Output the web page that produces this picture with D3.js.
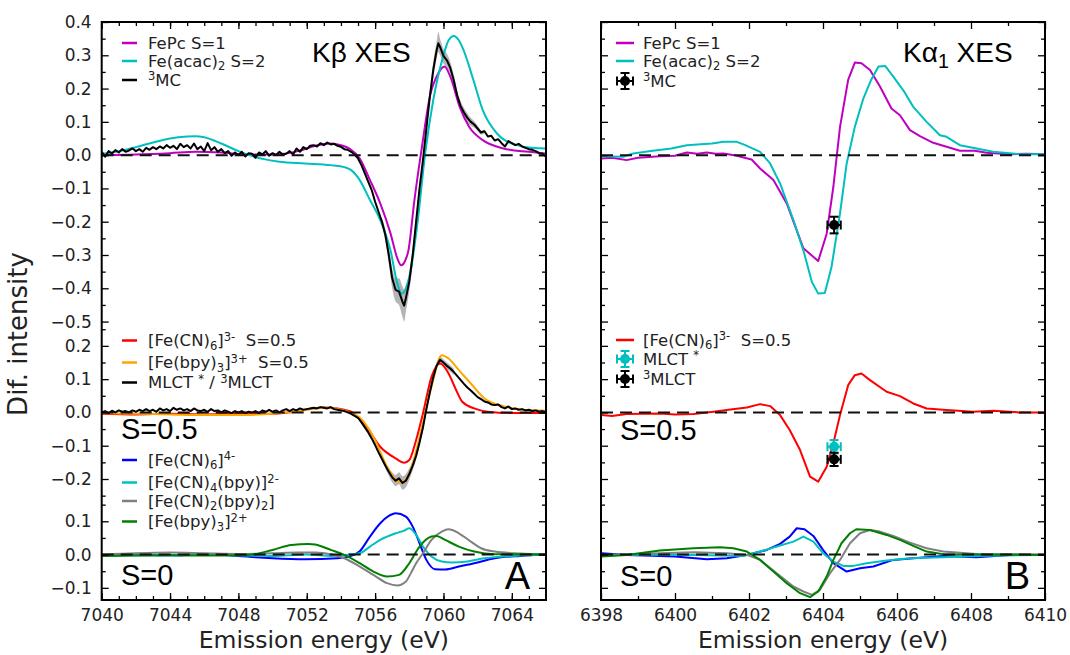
<!DOCTYPE html>
<html>
<head>
<meta charset="utf-8">
<script src="https://cdn.jsdelivr.net/npm/d3@7"></script>
<style>
	body { margin: 0; background: #fff; }
	text { font-family: 'DejaVu Sans', sans-serif; white-space: pre; }
</style>
</head>
<body>
<svg id="canvas"></svg>
<script>

// ---- data: [energy (eV), difference intensity] ----

// Kbeta, top block
let kbFePc = [[7040,0.000],[7042,0.002],[7044,0.006],[7045.5,0.010],[7047,0.008],[7048.5,0.002],[7050,0.002],[7051.5,0.012],[7052.5,0.028],[7053.4,0.035],[7054.0,0.030],[7054.5,0.020],[7055.1,-0.010],[7055.7,-0.075],[7056.3,-0.145],[7056.9,-0.235],[7057.3,-0.310],[7057.52,-0.331],[7057.75,-0.318],[7057.95,-0.286],[7058.3,-0.135],[7058.74,0.025],[7059.2,0.175],[7059.7,0.246],[7060.06,0.266],[7060.4,0.236],[7060.95,0.145],[7061.5,0.085],[7062.3,0.045],[7063.5,0.020],[7065,0.010],[7066,0.005]]

let kbAcac = [[7040,0.004],[7041,0.012],[7042,0.024],[7043,0.038],[7044,0.050],[7045,0.056],[7045.5,0.057],[7046,0.054],[7047,0.035],[7048,0.012],[7048.8,-0.003],[7049.5,-0.012],[7050.4,-0.020],[7051.9,-0.025],[7053.4,-0.030],[7054.2,-0.036],[7054.6,-0.045],[7055.1,-0.075],[7055.7,-0.135],[7056.3,-0.195],[7056.9,-0.286],[7057.3,-0.386],[7057.56,-0.416],[7057.8,-0.400],[7058.05,-0.356],[7058.5,-0.195],[7058.93,0.005],[7059.4,0.165],[7059.98,0.296],[7060.3,0.345],[7060.6,0.358],[7060.9,0.345],[7061.17,0.316],[7061.75,0.226],[7062.3,0.135],[7063.13,0.065],[7064.3,0.030],[7065.2,0.022],[7066,0.020]]

let kbMC = [[7040.0,0.010],[7040.2,-0.005],[7040.4,0.012],[7040.6,0.005],[7040.8,0.015],[7041.0,0.008],[7041.2,0.018],[7041.4,0.010],[7041.6,0.014],[7041.8,0.020],[7042.0,0.012],[7042.2,0.018],[7042.4,0.010],[7042.6,0.022],[7042.8,0.016],[7043.0,0.024],[7043.2,0.018],[7043.4,0.026],[7043.6,0.020],[7043.8,0.030],[7044.0,0.022],[7044.2,0.028],[7044.4,0.018],[7044.6,0.034],[7044.8,0.024],[7045.0,0.030],[7045.2,0.020],[7045.4,0.035],[7045.6,0.018],[7045.8,0.026],[7046.0,0.012],[7046.2,0.036],[7046.4,0.015],[7046.6,0.024],[7046.8,0.010],[7047.0,0.018],[7047.2,0.006],[7047.4,0.012],[7047.6,-0.002],[7047.8,0.008],[7048.0,0.000],[7048.2,0.010],[7048.4,-0.004],[7048.6,0.006],[7048.8,0.004],[7049.0,-0.008],[7049.2,0.008],[7049.4,0.002],[7049.6,0.012],[7049.8,-0.002],[7050.0,0.006],[7050.2,0.000],[7050.4,0.010],[7050.6,0.002],[7050.8,0.004],[7051.0,0.012],[7051.2,0.002],[7051.4,0.020],[7051.6,0.010],[7051.8,0.024],[7052.0,0.018],[7052.2,0.028],[7052.4,0.030],[7052.6,0.026],[7052.8,0.036],[7053.0,0.030],[7053.2,0.038],[7053.4,0.032],[7053.6,0.034],[7053.8,0.028],[7054.0,0.025],[7054.2,0.018],[7054.4,0.016],[7054.6,0.010],[7054.8,0.002],[7055.0,-0.010],[7055.2,-0.030],[7055.4,-0.055],[7055.6,-0.080],[7055.8,-0.105],[7056.0,-0.140],[7056.2,-0.170],[7056.4,-0.200],[7056.6,-0.240],[7056.8,-0.300],[7057.0,-0.370],[7057.2,-0.405],[7057.4,-0.410],[7057.6,-0.440],[7057.7,-0.452],[7057.8,-0.430],[7058.0,-0.380],[7058.2,-0.300],[7058.4,-0.200],[7058.6,-0.100],[7058.8,-0.015],[7059.0,0.080],[7059.2,0.175],[7059.4,0.255],[7059.6,0.315],[7059.7,0.336],[7059.8,0.325],[7060.0,0.298],[7060.2,0.285],[7060.4,0.262],[7060.6,0.226],[7060.8,0.180],[7061.0,0.148],[7061.2,0.128],[7061.4,0.112],[7061.6,0.100],[7061.8,0.092],[7062.0,0.080],[7062.2,0.068],[7062.4,0.072],[7062.6,0.056],[7062.8,0.058],[7063.0,0.044],[7063.2,0.048],[7063.4,0.036],[7063.6,0.026],[7063.8,0.042],[7064.0,0.036],[7064.2,0.030],[7064.4,0.034],[7064.6,0.026],[7064.8,0.022],[7065.0,0.018],[7065.2,0.016],[7065.4,0.012],[7065.6,0.006],[7065.8,0.004],[7066.0,-0.005]]

// uncertainty band of the 3MC curve: [energy, low, high]
let kbMCband = [[7056.4,-0.212,-0.188],[7056.6,-0.258,-0.222],[7056.8,-0.325,-0.275],[7057.0,-0.400,-0.340],[7057.2,-0.440,-0.370],[7057.4,-0.450,-0.370],[7057.6,-0.485,-0.395],[7057.7,-0.500,-0.405],[7057.8,-0.470,-0.390],[7058.0,-0.410,-0.350],[7058.2,-0.325,-0.275],[7058.4,-0.220,-0.180],[7058.6,-0.115,-0.085],[7058.8,-0.030,0.000],[7059.0,0.065,0.095],[7059.2,0.155,0.195],[7059.4,0.230,0.280],[7059.6,0.290,0.340],[7059.7,0.310,0.370],[7059.8,0.300,0.350],[7060.0,0.275,0.320],[7060.2,0.265,0.305],[7060.4,0.245,0.280],[7060.6,0.210,0.242],[7060.8,0.166,0.194],[7061.0,0.134,0.162],[7061.2,0.114,0.142],[7061.4,0.098,0.126],[7061.6,0.088,0.112],[7061.8,0.082,0.102],[7062.0,0.072,0.088],[7062.2,0.062,0.074],[7062.4,0.066,0.078]]

// Kbeta, S=0.5 block
let kbFeCN6_3 = [[7040,-0.004],[7042,-0.006],[7044,-0.004],[7046,-0.006],[7048,-0.004],[7050,-0.004],[7051.5,0.004],[7052.3,0.012],[7053,0.015],[7053.8,0.012],[7054.6,0.002],[7055.0,-0.015],[7055.5,-0.043],[7056.3,-0.103],[7057.2,-0.138],[7057.7,-0.151],[7058.0,-0.143],[7058.4,-0.083],[7058.8,-0.003],[7059.3,0.107],[7059.8,0.147],[7060.3,0.117],[7060.7,0.072],[7061.1,0.032],[7061.8,0.012],[7062.6,0.002],[7064,-0.002],[7066,-0.002]]

let kbBpy3_3 = [[7040,-0.002],[7042,-0.004],[7044,-0.006],[7046,-0.008],[7048,-0.008],[7050,-0.004],[7051.5,0.004],[7052.5,0.012],[7053.2,0.014],[7054,0.008],[7054.6,-0.002],[7055.1,-0.015],[7055.9,-0.073],[7056.7,-0.163],[7057.4,-0.208],[7057.8,-0.203],[7058.2,-0.153],[7058.7,-0.053],[7059.3,0.077],[7059.9,0.172],[7060.3,0.162],[7060.9,0.127],[7061.6,0.087],[7062.4,0.042],[7063.5,0.019],[7064.5,0.009],[7066,0.005]]

let kbMLCT = [[7040.0,0.000],[7040.2,0.004],[7040.4,-0.002],[7040.6,0.005],[7040.8,0.000],[7041.0,0.006],[7041.2,0.002],[7041.4,0.004],[7041.6,0.000],[7041.8,0.006],[7042.0,0.002],[7042.2,0.008],[7042.4,0.004],[7042.6,0.010],[7042.8,0.004],[7043.0,0.008],[7043.2,0.002],[7043.4,0.012],[7043.6,0.006],[7043.8,0.010],[7044.0,0.004],[7044.2,0.014],[7044.4,0.008],[7044.6,0.012],[7044.8,0.006],[7045.0,0.010],[7045.2,0.004],[7045.4,0.012],[7045.6,0.006],[7045.8,0.004],[7046.0,0.008],[7046.2,0.002],[7046.4,0.010],[7046.6,0.004],[7046.8,0.006],[7047.0,0.000],[7047.2,0.006],[7047.4,0.002],[7047.6,-0.002],[7047.8,0.004],[7048.0,0.000],[7048.2,0.004],[7048.4,-0.002],[7048.6,0.002],[7048.8,0.000],[7049.0,0.004],[7049.2,-0.002],[7049.4,0.006],[7049.6,0.002],[7049.8,0.008],[7050.0,0.002],[7050.2,0.006],[7050.4,0.000],[7050.6,0.006],[7050.8,0.010],[7051.0,0.004],[7051.2,0.010],[7051.4,0.006],[7051.6,0.012],[7051.8,0.008],[7052.0,0.010],[7052.2,0.012],[7052.4,0.014],[7052.6,0.012],[7052.8,0.016],[7053.0,0.014],[7053.2,0.012],[7053.4,0.016],[7053.6,0.010],[7053.8,0.008],[7054.0,0.006],[7054.2,0.004],[7054.4,0.000],[7054.6,-0.004],[7054.8,-0.010],[7055.0,-0.016],[7055.2,-0.030],[7055.4,-0.045],[7055.6,-0.060],[7055.8,-0.078],[7056.0,-0.098],[7056.2,-0.120],[7056.4,-0.140],[7056.6,-0.160],[7056.8,-0.178],[7057.0,-0.195],[7057.2,-0.205],[7057.4,-0.198],[7057.6,-0.212],[7057.8,-0.205],[7058.0,-0.185],[7058.2,-0.160],[7058.4,-0.130],[7058.6,-0.090],[7058.8,-0.045],[7059.0,0.010],[7059.2,0.060],[7059.4,0.105],[7059.6,0.140],[7059.8,0.158],[7060.0,0.150],[7060.2,0.140],[7060.4,0.132],[7060.6,0.122],[7060.8,0.110],[7061.0,0.098],[7061.2,0.086],[7061.4,0.075],[7061.6,0.066],[7061.8,0.056],[7062.0,0.046],[7062.2,0.040],[7062.4,0.033],[7062.6,0.030],[7062.8,0.024],[7063.0,0.022],[7063.2,0.024],[7063.4,0.016],[7063.6,0.012],[7063.8,0.018],[7064.0,0.010],[7064.2,0.012],[7064.4,0.008],[7064.6,0.010],[7064.8,0.006],[7065.0,0.008],[7065.2,0.004],[7065.4,0.006],[7065.6,0.002],[7065.8,0.004],[7066.0,0.000]]

let kbMLCTband = [[7056.6,-0.170,-0.150],[7056.8,-0.190,-0.166],[7057.0,-0.210,-0.180],[7057.2,-0.222,-0.188],[7057.4,-0.216,-0.180],[7057.6,-0.232,-0.192],[7057.8,-0.225,-0.185],[7058.0,-0.202,-0.168],[7058.2,-0.174,-0.146],[7058.4,-0.142,-0.118],[7058.6,-0.100,-0.080],[7058.8,-0.055,-0.035],[7059.0,0.000,0.020],[7059.2,0.050,0.070],[7059.4,0.095,0.115],[7059.6,0.130,0.150],[7059.8,0.148,0.168],[7060.0,0.140,0.160],[7060.2,0.130,0.150],[7060.4,0.122,0.142],[7060.6,0.112,0.132]]

// Kbeta, S=0 block
let kbFeCN6_4 = [[7040,-0.002],[7042,0.000],[7044,-0.002],[7046,0.000],[7048,-0.004],[7049,-0.008],[7050,-0.011],[7051.9,-0.014],[7053.8,-0.011],[7054.6,-0.004],[7055.1,0.010],[7055.7,0.054],[7056.3,0.094],[7056.8,0.116],[7057.2,0.124],[7057.8,0.114],[7058.2,0.084],[7058.6,0.034],[7059.0,-0.016],[7059.5,-0.044],[7060.1,-0.045],[7060.9,-0.036],[7061.8,-0.026],[7063.0,-0.011],[7064.5,-0.004],[7066,0.000]]

let kbFeCN4bpy = [[7040,-0.004],[7042,-0.002],[7044,-0.002],[7046,0.000],[7048,-0.002],[7050,-0.004],[7052,0.000],[7053.5,-0.004],[7054.5,0.000],[7055.1,0.004],[7055.7,0.024],[7056.3,0.044],[7057.2,0.064],[7057.7,0.072],[7058.0,0.079],[7058.4,0.059],[7058.8,0.024],[7059.3,-0.006],[7059.9,-0.021],[7060.5,-0.024],[7061.4,-0.021],[7062.4,-0.011],[7063.5,-0.006],[7066,0.000]]

let kbFeCN2bpy2 = [[7040,0.000],[7042,0.004],[7044,0.006],[7046,0.004],[7048,0.002],[7050,0.004],[7051.5,0.006],[7052.5,0.006],[7053.4,0.001],[7054.2,-0.011],[7055.1,-0.036],[7055.9,-0.061],[7056.7,-0.086],[7057.3,-0.093],[7057.8,-0.081],[7058.1,-0.055],[7058.4,-0.026],[7058.8,0.004],[7059.3,0.044],[7059.9,0.069],[7060.3,0.076],[7060.9,0.064],[7061.6,0.039],[7062.2,0.019],[7063.0,0.009],[7064.5,0.003],[7066,0.000]]

let kbBpy3_2 = [[7040,-0.004],[7042,-0.003],[7044,-0.002],[7046,-0.003],[7048,-0.002],[7048.8,0.000],[7050.0,0.014],[7051.1,0.029],[7052.1,0.032],[7052.5,0.030],[7053.4,0.014],[7054.2,-0.001],[7055.1,-0.026],[7055.9,-0.051],[7056.7,-0.066],[7057.4,-0.061],[7058.0,-0.026],[7058.6,0.024],[7059.3,0.054],[7059.6,0.056],[7060.1,0.044],[7060.9,0.024],[7061.8,0.009],[7063.0,0.001],[7066,0.000]]

// Kalpha1, top block
let kaFePc = [[6398.02,-0.010],[6398.3,-0.008],[6398.69,-0.015],[6399.0,-0.008],[6399.59,-0.003],[6400.0,-0.002],[6400.32,0.008],[6400.6,0.004],[6400.86,0.008],[6401.1,0.004],[6401.31,0.005],[6401.6,0.000],[6401.85,-0.007],[6402.07,-0.013],[6402.3,-0.040],[6402.66,-0.075],[6403.02,-0.145],[6403.47,-0.280],[6403.87,-0.318],[6404.10,-0.236],[6404.28,-0.095],[6404.46,0.085],[6404.68,0.226],[6404.86,0.278],[6405.04,0.276],[6405.27,0.256],[6405.54,0.206],[6405.85,0.140],[6406.08,0.120],[6406.35,0.075],[6406.62,0.057],[6406.98,0.037],[6407.34,0.025],[6407.70,0.013],[6408.1,0.013],[6408.42,0.007],[6409.05,0.003],[6409.5,0.004],[6410,0.003]]

let kaAcac = [[6398.02,-0.003],[6398.6,-0.005],[6398.87,0.005],[6399.4,0.013],[6399.9,0.020],[6400.32,0.030],[6400.7,0.033],[6401.0,0.035],[6401.31,0.040],[6401.67,0.040],[6401.9,0.030],[6402.3,0.010],[6402.57,-0.025],[6402.84,-0.085],[6403.2,-0.195],[6403.47,-0.286],[6403.7,-0.381],[6403.87,-0.416],[6404.05,-0.414],[6404.23,-0.336],[6404.46,-0.175],[6404.64,-0.025],[6404.86,0.085],[6405.09,0.170],[6405.3,0.226],[6405.5,0.266],[6405.68,0.268],[6405.9,0.236],[6406.2,0.190],[6406.44,0.145],[6406.8,0.100],[6407.16,0.060],[6407.34,0.055],[6407.7,0.030],[6408.15,0.020],[6408.6,0.010],[6409.3,0.003],[6410,0.003]]

// Kalpha1, S=0.5 block
let kaFeCN6_3 = [[6398.02,-0.008],[6398.3,-0.011],[6398.69,-0.005],[6399.59,-0.003],[6400.0,-0.006],[6400.5,-0.005],[6401.04,0.002],[6401.5,0.009],[6401.94,0.015],[6402.3,0.025],[6402.57,0.019],[6402.84,-0.008],[6403.1,-0.053],[6403.38,-0.113],[6403.65,-0.193],[6403.87,-0.208],[6404.1,-0.163],[6404.28,-0.093],[6404.46,-0.008],[6404.68,0.082],[6404.86,0.112],[6405.04,0.117],[6405.27,0.097],[6405.72,0.062],[6406.08,0.049],[6406.44,0.027],[6406.8,0.012],[6407.34,0.007],[6408.06,0.002],[6408.6,0.005],[6409.3,0.000],[6410,0.000]]

// Kalpha1, S=0 block
let kaFeCN6_4 = [[6398.02,0.004],[6398.7,-0.001],[6399.6,-0.004],[6400.0,-0.006],[6400.86,-0.014],[6401.4,-0.011],[6401.94,-0.001],[6402.48,0.014],[6402.84,0.032],[6403.1,0.054],[6403.29,0.079],[6403.5,0.076],[6403.74,0.056],[6404.0,0.014],[6404.28,-0.026],[6404.64,-0.051],[6405.0,-0.041],[6405.36,-0.036],[6405.9,-0.016],[6406.44,-0.011],[6407.25,-0.004],[6408.15,-0.008],[6409.05,-0.001],[6410,-0.001]]

let kaFeCN4bpy = [[6398.02,-0.002],[6399.59,0.000],[6400.9,-0.002],[6401.85,-0.004],[6402.3,0.009],[6402.75,0.024],[6403.2,0.039],[6403.47,0.054],[6403.74,0.039],[6404.0,0.004],[6404.28,-0.021],[6404.55,-0.034],[6404.82,-0.034],[6405.18,-0.026],[6405.72,-0.018],[6406.35,-0.011],[6407.25,-0.008],[6408.15,-0.004],[6410,-0.001]]

let kaFeCN2bpy2 = [[6398.02,-0.001],[6399.59,0.004],[6400.5,0.007],[6401.4,0.004],[6401.94,-0.001],[6402.3,-0.016],[6402.75,-0.056],[6403.2,-0.096],[6403.47,-0.111],[6403.7,-0.121],[6403.92,-0.106],[6404.19,-0.056],[6404.46,-0.016],[6404.73,0.034],[6405.0,0.064],[6405.27,0.074],[6405.54,0.069],[6405.9,0.056],[6406.35,0.036],[6406.8,0.019],[6407.25,0.009],[6408.15,0.002],[6410,0.000]]

let kaBpy3_2 = [[6398.02,-0.006],[6398.69,-0.001],[6399.59,0.012],[6400.5,0.019],[6401.22,0.022],[6401.58,0.019],[6401.94,0.009],[6402.3,-0.016],[6402.66,-0.051],[6403.02,-0.086],[6403.38,-0.116],[6403.65,-0.128],[6403.87,-0.111],[6404.1,-0.066],[6404.28,-0.016],[6404.5,0.034],[6404.73,0.064],[6404.9,0.076],[6405.27,0.074],[6405.72,0.059],[6406.08,0.044],[6406.44,0.026],[6406.8,0.009],[6407.25,0.001],[6410,-0.001]]

// Kalpha1 single-point measurements: energy, value, x error, y error
let kaMC = [{E: 6404.3, v: -0.210, ex: 0.18, ey: 0.025}]
let kaMLCTstar = [{E: 6404.3, v: -0.103, ex: 0.18, ey: 0.020}]
let kaMLCT3 = [{E: 6404.3, v: -0.141, ex: 0.18, ey: 0.020}]

// tick values
let xTicksA = [7040, 7044, 7048, 7052, 7056, 7060, 7064]
let xMinorA = d3.range(7041, 7066, 1)
let xTicksB = [6398, 6400, 6402, 6404, 6406, 6408, 6410]
let xMinorB = d3.range(6399, 6410, 2)

let yTopTicks = [-0.5, -0.4, -0.3, -0.2, -0.1, 0.0, 0.1, 0.2, 0.3, 0.4]
let yMidTicks = [-0.2, -0.1, 0.0, 0.1, 0.2]
let yBotTicks = [-0.1, 0.0, 0.1]
let yTopMinor = [-0.45, -0.35, -0.25, -0.15, -0.05, 0.05, 0.15, 0.25, 0.35]
let yMidMinor = [-0.25, -0.15, -0.05, 0.05, 0.15, 0.25]
let yBotMinor = [-0.05, 0.05, 0.15]

// ---- layout ----
let width = 1070
let height = 655
let plotTop = 22
let plotBottom = 600

let offTop = 0
let offMid = -0.773
let offBot = -1.2

let colMag = '#bf00bf'
let colCyan = '#00bfbf'

let svg = d3.select('#canvas')
	.attr('width', width)
	.attr('height', height)

let yScale = d3.scaleLinear()
	.domain([-1.3365, 0.4])
	.range([plotBottom, plotTop])

let xA = d3.scaleLinear().domain([7040, 7066]).range([101.7, 546])
let xB = d3.scaleLinear().domain([6398, 6410]).range([601, 1045])

let sections = [
	{ off: offTop, major: yTopTicks, minor: yTopMinor },
	{ off: offMid, major: yMidTicks, minor: yMidMinor },
	{ off: offBot, major: yBotTicks, minor: yBotMinor }
]

// text with _{sub} and ^{sup} pieces
let rich = (textSel, str, size) => {
	let shift = 0
	str.split(/(_\{[^}]*\}|\^\{[^}]*\})/).filter(s => s !== '').forEach(part => {
		let target = 0
		let txt = part
		let fs = size
		if (part[0] === '_') {
			target = size * 0.22; txt = part.slice(2, -1); fs = size * 0.7
		} else if (part[0] === '^') {
			target = -size * 0.33; txt = part.slice(2, -1); fs = size * 0.7
		}
		textSel.append('tspan')
			.attr('dy', target - shift)
			.attr('font-size', fs)
			.text(txt)
		shift = target
	})
}

let drawAxes = (x, xTicks, xMinor, showY) => {
	let x0 = x.range()[0]
	let x1 = x.range()[1]

	let bottom = svg.append('g')
		.attr('transform', `translate(0, ${plotBottom})`)
		.call(d3.axisBottom(x).tickValues(xTicks).tickSizeInner(-7).tickSizeOuter(0).tickPadding(9).tickFormat(d3.format('d')))
	svg.append('g')
		.attr('transform', `translate(0, ${plotBottom})`)
		.call(d3.axisBottom(x).tickValues(xMinor).tickSizeInner(-4).tickSizeOuter(0).tickFormat(''))
	svg.append('g')
		.attr('transform', `translate(0, ${plotTop})`)
		.call(d3.axisTop(x).tickValues(xTicks).tickSizeInner(-7).tickSizeOuter(0).tickFormat(''))
	svg.append('g')
		.attr('transform', `translate(0, ${plotTop})`)
		.call(d3.axisTop(x).tickValues(xMinor).tickSizeInner(-4).tickSizeOuter(0).tickFormat(''))
	bottom.selectAll('text').attr('font-size', 17).attr('fill', '#222')

	sections.forEach(sec => {
		let left = svg.append('g')
			.attr('transform', `translate(${x0}, 0)`)
			.call(d3.axisLeft(yScale)
				.tickValues(sec.major.map(v => v + sec.off))
				.tickSizeInner(-7).tickSizeOuter(0).tickPadding(10)
				.tickFormat((d, i) => showY ? d3.format('.1f')(sec.major[i]) : ''))
		left.selectAll('text').attr('font-size', 17).attr('fill', '#222')
		svg.append('g')
			.attr('transform', `translate(${x0}, 0)`)
			.call(d3.axisLeft(yScale).tickValues(sec.minor.map(v => v + sec.off)).tickSizeInner(-4).tickSizeOuter(0).tickFormat(''))
		svg.append('g')
			.attr('transform', `translate(${x1}, 0)`)
			.call(d3.axisRight(yScale).tickValues(sec.major.map(v => v + sec.off)).tickSizeInner(-7).tickSizeOuter(0).tickFormat(''))
		svg.append('g')
			.attr('transform', `translate(${x1}, 0)`)
			.call(d3.axisRight(yScale).tickValues(sec.minor.map(v => v + sec.off)).tickSizeInner(-4).tickSizeOuter(0).tickFormat(''))
	})

	svg.selectAll('.domain').remove()
	svg.selectAll('.tick line').attr('stroke', '#000').attr('stroke-width', 1.3)
}

let drawPanel = (id, x, curves, bands, zeroOffsets) => {
	let x0 = x.range()[0]
	let x1 = x.range()[1]

	svg.append('clipPath')
		.attr('id', id)
		.append('rect')
		.attr('x', x0).attr('y', plotTop)
		.attr('width', x1 - x0).attr('height', plotBottom - plotTop)

	let g = svg.append('g').attr('clip-path', `url(#${id})`)

	bands.forEach(b => {
		let area = d3.area()
			.x(d => x(d[0]))
			.y0(d => yScale(d[1] + b.off))
			.y1(d => yScale(d[2] + b.off))
			.curve(d3.curveMonotoneX)
		g.append('path')
			.datum(b.data)
			.attr('d', area)
			.attr('fill', '#a8a8a8')
			.attr('opacity', 0.85)
	})

	curves.forEach(c => {
		let line = d3.line()
			.x(d => x(d[0]))
			.y(d => yScale(d[1] + c.off))
			.curve(c.curve || d3.curveMonotoneX)
		g.append('path')
			.datum(c.data)
			.attr('d', line)
			.attr('fill', 'none')
			.attr('stroke', c.color)
			.attr('stroke-width', 2)
			.attr('stroke-linejoin', 'round')
	})

	zeroOffsets.forEach(off => {
		g.append('line')
			.attr('x1', x0).attr('x2', x1)
			.attr('y1', yScale(off)).attr('y2', yScale(off))
			.attr('stroke', '#111')
			.attr('stroke-width', 2)
			.attr('stroke-dasharray', '12,7')
	})
}

let drawFrame = (x) => {
	let x0 = x.range()[0]
	let x1 = x.range()[1]
	svg.append('rect')
		.attr('x', x0).attr('y', plotTop)
		.attr('width', x1 - x0).attr('height', plotBottom - plotTop)
		.attr('fill', 'none')
		.attr('stroke', '#000')
		.attr('stroke-width', 2)
}

// errorbar with caps and round marker, in pixels
let errMark = (cx, cy, hx, hy, color) => {
	let g = svg.append('g').attr('stroke', color).attr('stroke-width', 2)
	g.append('line').attr('x1', cx - hx).attr('x2', cx + hx).attr('y1', cy).attr('y2', cy)
	g.append('line').attr('x1', cx).attr('x2', cx).attr('y1', cy - hy).attr('y2', cy + hy)
	g.append('line').attr('x1', cx - hx).attr('x2', cx - hx).attr('y1', cy - 4.5).attr('y2', cy + 4.5)
	g.append('line').attr('x1', cx + hx).attr('x2', cx + hx).attr('y1', cy - 4.5).attr('y2', cy + 4.5)
	g.append('line').attr('x1', cx - 4.5).attr('x2', cx + 4.5).attr('y1', cy - hy).attr('y2', cy - hy)
	g.append('line').attr('x1', cx - 4.5).attr('x2', cx + 4.5).attr('y1', cy + hy).attr('y2', cy + hy)
	g.append('circle').attr('cx', cx).attr('cy', cy).attr('r', 5).attr('fill', color).attr('stroke', 'none')
}

let drawPoints = (x, pts, off, color) => {
	pts.forEach(p => {
		let cx = x(p.E)
		let cy = yScale(p.v + off)
		let hx = x(p.E + p.ex) - cx
		let hy = yScale(p.v + off - p.ey) - cy
		errMark(cx, cy, hx, hy, color)
	})
}

let legend = (items, lineX0, lineX1, textX) => {
	items.forEach(it => {
		if (it.type === 'err') {
			errMark((lineX0 + lineX1) / 2, it.y, 8, 8, it.color)
		} else {
			svg.append('line')
				.attr('x1', lineX0).attr('x2', lineX1)
				.attr('y1', it.y).attr('y2', it.y)
				.attr('stroke', it.color).attr('stroke-width', 2.5)
		}
		let t = svg.append('text')
			.attr('x', textX)
			.attr('y', it.y + 5.5)
			.attr('fill', '#222')
		rich(t, it.label, 16.5)
	})
}

let bigText = (x, y, str, size, anchor) => {
	let t = svg.append('text')
		.attr('x', x).attr('y', y)
		.attr('text-anchor', anchor || 'start')
		.style('font-family', "'Liberation Sans', Arial, sans-serif")
		.attr('fill', '#000')
	rich(t, str, size)
}

// ---- panel A : Kbeta ----
drawPanel('clipA', xA, [
	{ data: kbFePc, color: colMag, off: offTop },
	{ data: kbAcac, color: colCyan, off: offTop },
	{ data: kbMC, color: '#000', off: offTop, curve: d3.curveLinear },
	{ data: kbFeCN6_3, color: '#ff0000', off: offMid },
	{ data: kbBpy3_3, color: '#ffa500', off: offMid },
	{ data: kbMLCT, color: '#000', off: offMid, curve: d3.curveLinear },
	{ data: kbFeCN6_4, color: '#0000ff', off: offBot },
	{ data: kbFeCN4bpy, color: colCyan, off: offBot },
	{ data: kbFeCN2bpy2, color: '#808080', off: offBot },
	{ data: kbBpy3_2, color: '#008000', off: offBot }
], [
	{ data: kbMCband, off: offTop },
	{ data: kbMLCTband, off: offMid }
], [offTop, offMid, offBot])

// ---- panel B : Kalpha1 ----
drawPanel('clipB', xB, [
	{ data: kaFePc, color: colMag, off: offTop, curve: d3.curveLinear },
	{ data: kaAcac, color: colCyan, off: offTop, curve: d3.curveLinear },
	{ data: kaFeCN6_3, color: '#ff0000', off: offMid, curve: d3.curveLinear },
	{ data: kaFeCN6_4, color: '#0000ff', off: offBot, curve: d3.curveLinear },
	{ data: kaFeCN4bpy, color: colCyan, off: offBot, curve: d3.curveLinear },
	{ data: kaFeCN2bpy2, color: '#808080', off: offBot, curve: d3.curveLinear },
	{ data: kaBpy3_2, color: '#008000', off: offBot, curve: d3.curveLinear }
], [], [offTop, offMid, offBot])

drawPoints(xB, kaMC, offTop, '#000')
drawPoints(xB, kaMLCTstar, offMid, colCyan)
drawPoints(xB, kaMLCT3, offMid, '#000')

drawAxes(xA, xTicksA, xMinorA, true)
drawAxes(xB, xTicksB, xMinorB, false)
drawFrame(xA)
drawFrame(xB)

// legends
legend([
	{ y: 43, color: colMag, label: 'FePc S=1' },
	{ y: 61, color: colCyan, label: 'Fe(acac)_{2} S=2' },
	{ y: 80, color: '#000', label: '^{3}MC' }
], 122, 137, 148)

legend([
	{ y: 340.5, color: '#ff0000', label: '[Fe(CN)_{6}]^{3-}  S=0.5' },
	{ y: 362.5, color: '#ffa500', label: '[Fe(bpy)_{3}]^{3+}  S=0.5' },
	{ y: 382.5, color: '#000', label: 'MLCT ^{*} / ^{3}MLCT' }
], 122, 137, 148)

legend([
	{ y: 460, color: '#0000ff', label: '[Fe(CN)_{6}]^{4-}' },
	{ y: 482.5, color: colCyan, label: '[Fe(CN)_{4}(bpy)]^{2-}' },
	{ y: 501, color: '#808080', label: '[Fe(CN)_{2}(bpy)_{2}]' },
	{ y: 521.5, color: '#008000', label: '[Fe(bpy)_{3}]^{2+}' }
], 122, 137, 148)

legend([
	{ y: 43, color: colMag, label: 'FePc S=1' },
	{ y: 61, color: colCyan, label: 'Fe(acac)_{2} S=2' },
	{ y: 81, color: '#000', type: 'err', label: '^{3}MC' }
], 616, 634, 643)

legend([
	{ y: 340, color: '#ff0000', label: '[Fe(CN)_{6}]^{3-}  S=0.5' },
	{ y: 359, color: colCyan, type: 'err', label: 'MLCT ^{*}' },
	{ y: 379, color: '#000', type: 'err', label: '^{3}MLCT' }
], 616, 634, 643)

// panel annotations
bigText(312, 62, 'Kβ XES', 28)
bigText(903, 62, 'Kα_{1} XES', 28)
bigText(121, 439, 'S=0.5', 29)
bigText(620, 440, 'S=0.5', 29)
bigText(121, 585, 'S=0', 29)
bigText(620, 586, 'S=0', 29)
bigText(530, 589, 'A', 38, 'end')
bigText(1030, 589, 'B', 38, 'end')

// axis titles
svg.append('text')
	.attr('x', (101.7 + 546) / 2).attr('y', 648)
	.attr('text-anchor', 'middle').attr('font-size', 23.5).attr('fill', '#222')
	.text('Emission energy (eV)')
svg.append('text')
	.attr('x', (601 + 1045) / 2).attr('y', 648)
	.attr('text-anchor', 'middle').attr('font-size', 23.5).attr('fill', '#222')
	.text('Emission energy (eV)')
svg.append('text')
	.attr('transform', 'translate(27, 334) rotate(-90)')
	.attr('text-anchor', 'middle').attr('font-size', 26).attr('fill', '#222')
	.text('Dif. intensity')

</script>
</body>
</html>
